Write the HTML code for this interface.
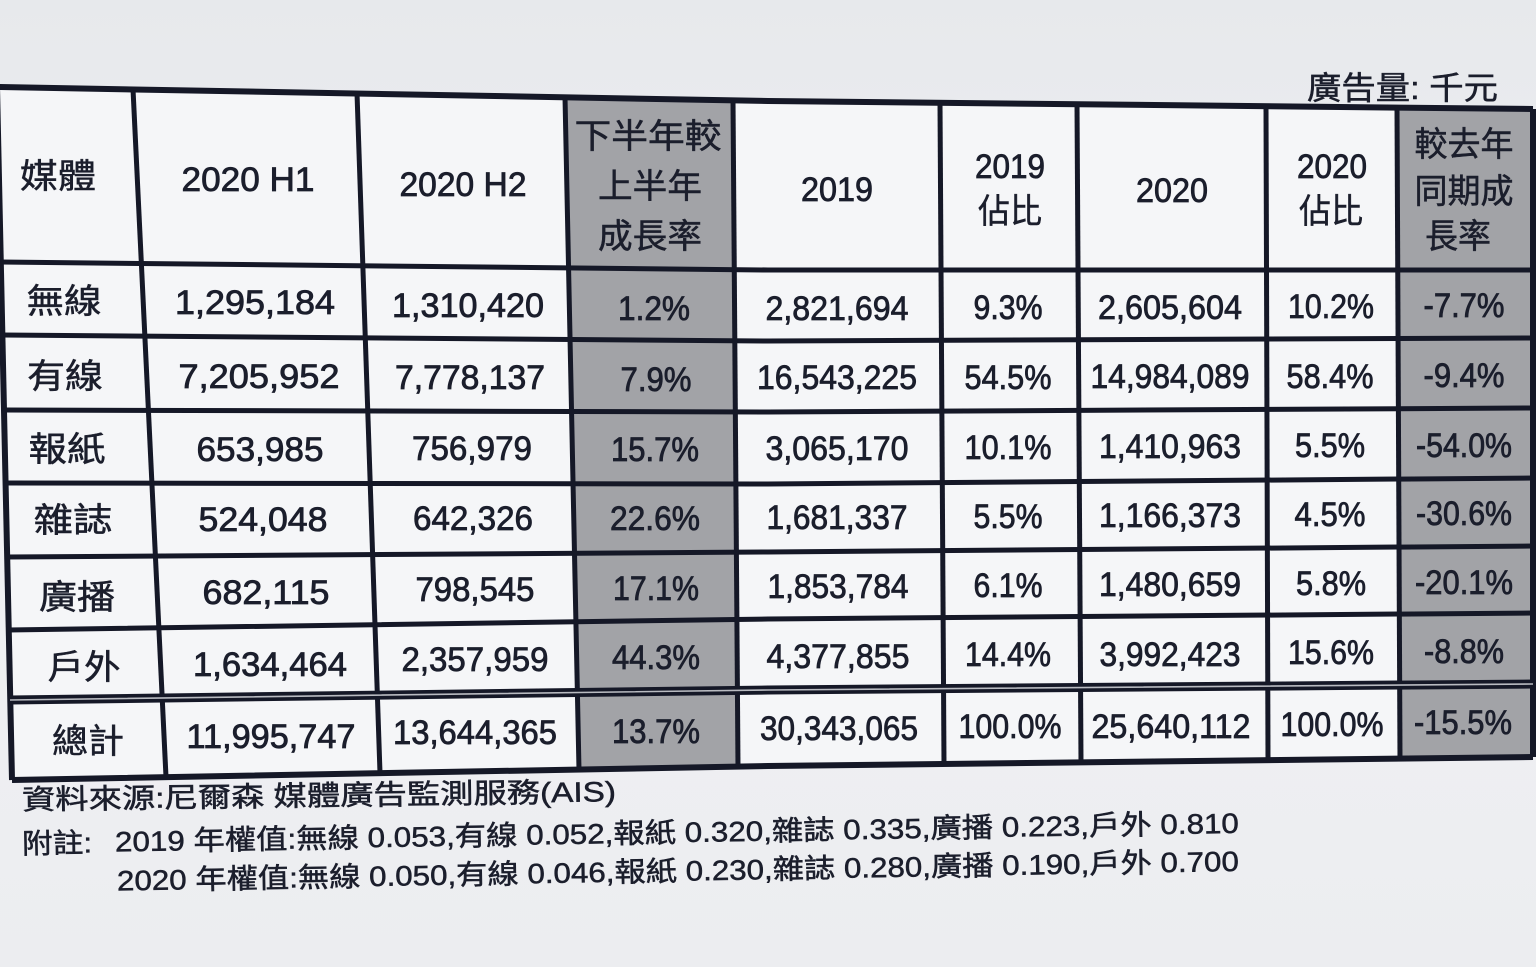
<!DOCTYPE html>
<html><head><meta charset="utf-8"><style>
html,body{margin:0;padding:0;background:#eceef1;}
svg{display:block;}
text{font-family:"Liberation Sans","Noto Sans CJK TC",sans-serif;fill:#1b1e2c;dominant-baseline:central;stroke:#1b1e2c;stroke-width:0.8px;}
.c{text-anchor:middle;font-size:34px;}
.k{text-anchor:middle;font-size:34px;stroke-width:0.5px;}
.f{font-size:28px;stroke-width:0.5px;}
</style></head><body>
<svg width="1536" height="967" viewBox="0 0 1536 967" xmlns="http://www.w3.org/2000/svg">
<defs>
<linearGradient id="bg" x1="0" y1="0" x2="0" y2="1">
<stop offset="0" stop-color="#e7e9ec"/><stop offset="0.5" stop-color="#f0f1f4"/><stop offset="1" stop-color="#ecedf0"/>
</linearGradient>
</defs>
<rect x="0" y="0" width="1536" height="967" fill="url(#bg)"/>
<polygon points="-3,87 768,101 1533,109 1533,757 768,766 12,780" fill="#f5f6f8"/>
<polygon points="565,97 733,100 738,767 579,770" fill="#a2a3a7"/>
<polygon points="1397,108 1533,109 1533,757 1400,759" fill="#a2a3a7"/>
<g stroke="#151827" fill="none" stroke-width="5" stroke-linejoin="round">
<polyline points="-3,87 768,101 1533,109" stroke-width="6"/>
<polyline points="0,262 768,270 1533,270"/>
<polyline points="2,335 768,341 1533,338"/>
<polyline points="4,410 768,412 1533,408"/>
<polyline points="5,483 768,484 1533,478"/>
<polyline points="7,557 768,552 1533,546"/>
<polyline points="8,630 768,619 1533,613"/>
<polyline points="10,700 768,690 1533,684" stroke-width="9"/>
<polyline points="12,780 768,766 1533,757" stroke-width="6"/>
<line x1="-3" y1="87" x2="12" y2="780" stroke-width="6"/>
<line x1="133" y1="89" x2="166" y2="777"/>
<line x1="357" y1="93" x2="380" y2="773"/>
<line x1="565" y1="97" x2="579" y2="770"/>
<line x1="733" y1="100" x2="738" y2="767"/>
<line x1="940" y1="103" x2="944" y2="764"/>
<line x1="1077" y1="104" x2="1081" y2="762"/>
<line x1="1266" y1="106" x2="1268" y2="760"/>
<line x1="1397" y1="108" x2="1400" y2="759"/>
<line x1="1533" y1="109" x2="1533" y2="757" stroke-width="6"/>
</g>
<polyline points="10,700 768,690 1533,684" stroke="#b9bbc1" stroke-width="1.6" fill="none"/>

<text x="1307" y="88" class="f" style="font-size:32px" textLength="191" lengthAdjust="spacingAndGlyphs">廣告量: 千元</text>

<text class="k" x="58" y="177" textLength="76" lengthAdjust="spacingAndGlyphs">媒體</text>
<text class="c" x="248" y="180" textLength="133" lengthAdjust="spacingAndGlyphs">2020 H1</text>
<text class="c" x="463" y="185" textLength="127" lengthAdjust="spacingAndGlyphs">2020 H2</text>
<text class="k" x="648" y="137" textLength="147" lengthAdjust="spacingAndGlyphs">下半年較</text>
<text class="k" x="650" y="187" textLength="104" lengthAdjust="spacingAndGlyphs">上半年</text>
<text class="k" x="650" y="237" textLength="104" lengthAdjust="spacingAndGlyphs">成長率</text>
<text class="c" x="837" y="190" textLength="72" lengthAdjust="spacingAndGlyphs">2019</text>
<text class="c" x="1010" y="167" textLength="70" lengthAdjust="spacingAndGlyphs">2019</text>
<text class="k" x="1010" y="212" textLength="64" lengthAdjust="spacingAndGlyphs">佔比</text>
<text class="c" x="1172" y="191" textLength="72" lengthAdjust="spacingAndGlyphs">2020</text>
<text class="c" x="1332" y="167" textLength="70" lengthAdjust="spacingAndGlyphs">2020</text>
<text class="k" x="1331" y="212" textLength="64" lengthAdjust="spacingAndGlyphs">佔比</text>
<text class="k" x="1464" y="145" textLength="99" lengthAdjust="spacingAndGlyphs">較去年</text>
<text class="k" x="1464" y="192" textLength="99" lengthAdjust="spacingAndGlyphs">同期成</text>
<text class="k" x="1458" y="237" textLength="66" lengthAdjust="spacingAndGlyphs">長率</text>

<text class="k" x="64" y="302" textLength="75" lengthAdjust="spacingAndGlyphs">無線</text>
<text class="c" x="255" y="303" textLength="160" lengthAdjust="spacingAndGlyphs">1,295,184</text>
<text class="c" x="468" y="306" textLength="152" lengthAdjust="spacingAndGlyphs">1,310,420</text>
<text class="c" x="654" y="309" textLength="72" lengthAdjust="spacingAndGlyphs">1.2%</text>
<text class="c" x="837" y="309" textLength="143" lengthAdjust="spacingAndGlyphs">2,821,694</text>
<text class="c" x="1008" y="308" textLength="69" lengthAdjust="spacingAndGlyphs">9.3%</text>
<text class="c" x="1170" y="308" textLength="144" lengthAdjust="spacingAndGlyphs">2,605,604</text>
<text class="c" x="1331" y="307" textLength="86" lengthAdjust="spacingAndGlyphs">10.2%</text>
<text class="c" x="1464" y="306" textLength="81" lengthAdjust="spacingAndGlyphs">-7.7%</text>

<text class="k" x="65" y="377" textLength="76" lengthAdjust="spacingAndGlyphs">有線</text>
<text class="c" x="259" y="377" textLength="161" lengthAdjust="spacingAndGlyphs">7,205,952</text>
<text class="c" x="470" y="378" textLength="150" lengthAdjust="spacingAndGlyphs">7,778,137</text>
<text class="c" x="656" y="380" textLength="71" lengthAdjust="spacingAndGlyphs">7.9%</text>
<text class="c" x="837" y="378" textLength="160" lengthAdjust="spacingAndGlyphs">16,543,225</text>
<text class="c" x="1008" y="378" textLength="87" lengthAdjust="spacingAndGlyphs">54.5%</text>
<text class="c" x="1170" y="377" textLength="159" lengthAdjust="spacingAndGlyphs">14,984,089</text>
<text class="c" x="1330" y="377" textLength="87" lengthAdjust="spacingAndGlyphs">58.4%</text>
<text class="c" x="1464" y="376" textLength="81" lengthAdjust="spacingAndGlyphs">-9.4%</text>

<text class="k" x="67" y="450" textLength="77" lengthAdjust="spacingAndGlyphs">報紙</text>
<text class="c" x="260" y="450" textLength="127" lengthAdjust="spacingAndGlyphs">653,985</text>
<text class="c" x="472" y="449" textLength="120" lengthAdjust="spacingAndGlyphs">756,979</text>
<text class="c" x="655" y="450" textLength="88" lengthAdjust="spacingAndGlyphs">15.7%</text>
<text class="c" x="837" y="449" textLength="143" lengthAdjust="spacingAndGlyphs">3,065,170</text>
<text class="c" x="1008" y="448" textLength="87" lengthAdjust="spacingAndGlyphs">10.1%</text>
<text class="c" x="1170" y="447" textLength="142" lengthAdjust="spacingAndGlyphs">1,410,963</text>
<text class="c" x="1330" y="446" textLength="70" lengthAdjust="spacingAndGlyphs">5.5%</text>
<text class="c" x="1464" y="446" textLength="96" lengthAdjust="spacingAndGlyphs">-54.0%</text>

<text class="k" x="73" y="521" textLength="79" lengthAdjust="spacingAndGlyphs">雜誌</text>
<text class="c" x="263" y="520" textLength="129" lengthAdjust="spacingAndGlyphs">524,048</text>
<text class="c" x="473" y="519" textLength="120" lengthAdjust="spacingAndGlyphs">642,326</text>
<text class="c" x="655" y="519" textLength="90" lengthAdjust="spacingAndGlyphs">22.6%</text>
<text class="c" x="837" y="518" textLength="141" lengthAdjust="spacingAndGlyphs">1,681,337</text>
<text class="c" x="1008" y="517" textLength="69" lengthAdjust="spacingAndGlyphs">5.5%</text>
<text class="c" x="1170" y="516" textLength="142" lengthAdjust="spacingAndGlyphs">1,166,373</text>
<text class="c" x="1330" y="515" textLength="71" lengthAdjust="spacingAndGlyphs">4.5%</text>
<text class="c" x="1464" y="514" textLength="96" lengthAdjust="spacingAndGlyphs">-30.6%</text>

<text class="k" x="77" y="598" textLength="76" lengthAdjust="spacingAndGlyphs">廣播</text>
<text class="c" x="266" y="593" textLength="127" lengthAdjust="spacingAndGlyphs">682,115</text>
<text class="c" x="475" y="590" textLength="119" lengthAdjust="spacingAndGlyphs">798,545</text>
<text class="c" x="656" y="589" textLength="86" lengthAdjust="spacingAndGlyphs">17.1%</text>
<text class="c" x="838" y="587" textLength="141" lengthAdjust="spacingAndGlyphs">1,853,784</text>
<text class="c" x="1008" y="586" textLength="69" lengthAdjust="spacingAndGlyphs">6.1%</text>
<text class="c" x="1170" y="585" textLength="142" lengthAdjust="spacingAndGlyphs">1,480,659</text>
<text class="c" x="1331" y="584" textLength="70" lengthAdjust="spacingAndGlyphs">5.8%</text>
<text class="c" x="1464" y="583" textLength="98" lengthAdjust="spacingAndGlyphs">-20.1%</text>

<text class="k" x="84" y="668" textLength="73" lengthAdjust="spacingAndGlyphs">戶外</text>
<text class="c" x="270" y="665" textLength="154" lengthAdjust="spacingAndGlyphs">1,634,464</text>
<text class="c" x="475" y="660" textLength="147" lengthAdjust="spacingAndGlyphs">2,357,959</text>
<text class="c" x="656" y="658" textLength="88" lengthAdjust="spacingAndGlyphs">44.3%</text>
<text class="c" x="838" y="657" textLength="143" lengthAdjust="spacingAndGlyphs">4,377,855</text>
<text class="c" x="1008" y="655" textLength="86" lengthAdjust="spacingAndGlyphs">14.4%</text>
<text class="c" x="1170" y="655" textLength="141" lengthAdjust="spacingAndGlyphs">3,992,423</text>
<text class="c" x="1331" y="653" textLength="86" lengthAdjust="spacingAndGlyphs">15.6%</text>
<text class="c" x="1464" y="652" textLength="80" lengthAdjust="spacingAndGlyphs">-8.8%</text>

<text class="k" x="88" y="742" textLength="72" lengthAdjust="spacingAndGlyphs">總計</text>
<text class="c" x="271" y="737" textLength="169" lengthAdjust="spacingAndGlyphs">11,995,747</text>
<text class="c" x="475" y="733" textLength="164" lengthAdjust="spacingAndGlyphs">13,644,365</text>
<text class="c" x="656" y="732" textLength="88" lengthAdjust="spacingAndGlyphs">13.7%</text>
<text class="c" x="839" y="729" textLength="158" lengthAdjust="spacingAndGlyphs">30,343,065</text>
<text class="c" x="1010" y="727" textLength="103" lengthAdjust="spacingAndGlyphs">100.0%</text>
<text class="c" x="1171" y="727" textLength="159" lengthAdjust="spacingAndGlyphs">25,640,112</text>
<text class="c" x="1332" y="725" textLength="103" lengthAdjust="spacingAndGlyphs">100.0%</text>
<text class="c" x="1463" y="723" textLength="98" lengthAdjust="spacingAndGlyphs">-15.5%</text>

<text class="f" x="22" y="800" transform="rotate(-0.8 22 800)" textLength="594" lengthAdjust="spacingAndGlyphs">資料來源:尼爾森 媒體廣告監測服務(AIS)</text>
<text class="f" x="22" y="844" transform="rotate(-0.9 22 844)" textLength="70" lengthAdjust="spacingAndGlyphs">附註:</text>
<text class="f" x="115" y="842" transform="rotate(-0.95 115 842)" textLength="1124" lengthAdjust="spacingAndGlyphs">2019 年權值:無線 0.053,有線 0.052,報紙 0.320,雜誌 0.335,廣播 0.223,戶外 0.810</text>
<text class="f" x="117" y="881" transform="rotate(-1.0 117 881)" textLength="1122" lengthAdjust="spacingAndGlyphs">2020 年權值:無線 0.050,有線 0.046,報紙 0.230,雜誌 0.280,廣播 0.190,戶外 0.700</text>
</svg>
</body></html>
